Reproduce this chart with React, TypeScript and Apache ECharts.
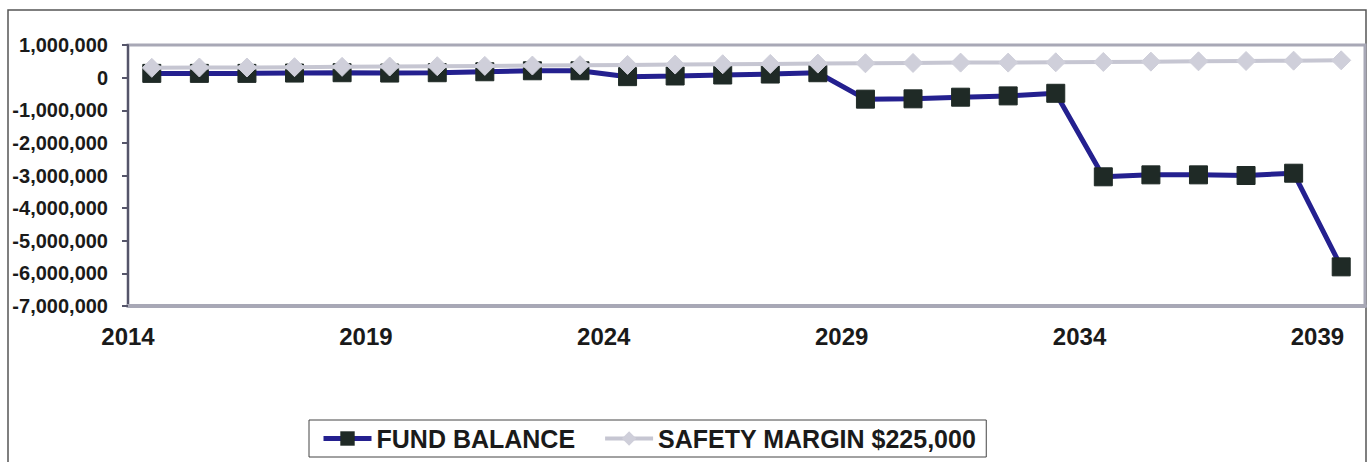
import React, { useEffect, useRef } from "react";
import * as echarts from "echarts";

const years = [
  2014.5, 2015.5, 2016.5, 2017.5, 2018.5, 2019.5, 2020.5, 2021.5, 2022.5, 2023.5,
  2024.5, 2025.5, 2026.5, 2027.5, 2028.5, 2029.5, 2030.5, 2031.5, 2032.5, 2033.5,
  2034.5, 2035.5, 2036.5, 2037.5, 2038.5, 2039.5,
];

const fundBalance = [
  130000, 130000, 130000, 140000, 150000, 140000, 150000, 180000, 210000, 210000,
  30000, 50000, 80000, 110000, 150000, -660000, -650000, -600000, -560000, -480000,
  -3040000, -2980000, -2980000, -3000000, -2930000, -5800000,
];

const safetyMargin = [
  300000, 310000, 310000, 320000, 330000, 340000, 350000, 360000, 370000, 380000,
  390000, 400000, 410000, 420000, 430000, 440000, 450000, 460000, 460000, 470000,
  480000, 490000, 500000, 510000, 520000, 530000,
];

const seriesNames = ["FUND BALANCE", "SAFETY MARGIN $225,000"];

const FONT = "'Liberation Sans', Arial, sans-serif";

export default function App() {
  const ref = useRef<HTMLDivElement>(null);

  useEffect(() => {
    if (!ref.current) return;
    const chart = echarts.init(ref.current, undefined, { renderer: "svg" });
    chart.setOption({
      animation: false,
      backgroundColor: "#ffffff",
      grid: {
        left: 128,
        top: 45,
        width: 1237,
        height: 261,
        show: true,
        borderColor: "#a8a8b6",
        borderWidth: 3,
        backgroundColor: "#ffffff",
      },
      xAxis: {
        type: "value",
        min: 2014,
        max: 2040,
        interval: 5,
        axisLine: { show: true, onZero: false, lineStyle: { color: "#a8a8b6", width: 4 } },
        axisTick: { show: false },
        splitLine: { show: false },
        axisLabel: {
          showMaxLabel: false,
          margin: 18,
          formatter: (v: number) => String(v),
          fontFamily: FONT,
          fontWeight: "bold",
          fontSize: 24,
          color: "#1a1a1a",
        },
      },
      yAxis: {
        type: "value",
        min: -7000000,
        max: 1000000,
        interval: 1000000,
        axisLine: { show: true, lineStyle: { color: "#55556a", width: 2 } },
        axisTick: { show: true, length: 6, lineStyle: { color: "#55556a", width: 2 } },
        splitLine: { show: false },
        axisLabel: {
          margin: 20,
          formatter: (v: number) => v.toLocaleString("en-US"),
          fontFamily: FONT,
          fontWeight: "bold",
          fontSize: 20,
          color: "#1a1a1a",
        },
      },
      legend: {
        data: [
          { name: seriesNames[0], lineStyle: { width: 5 } },
          { name: seriesNames[1], lineStyle: { width: 4 } },
        ],
        left: 309,
        top: 420,
        padding: [6, 10, 6, 12],
        itemGap: 28,
        itemWidth: 48,
        itemHeight: 18,
        borderColor: "#444444",
        borderWidth: 1,
        textStyle: {
          fontFamily: FONT,
          fontWeight: "bold",
          fontSize: 25,
          color: "#1a1a1a",
        },
      },
      graphic: [
        {
          type: "rect",
          shape: { x: 8, y: 10, width: 1358, height: 470 },
          style: { fill: "none", stroke: "#555555", lineWidth: 1.5 },
          z: -1,
          silent: true,
        },
      ],
      series: [
        {
          name: seriesNames[0],
          type: "line",
          data: years.map((y, i) => [y, fundBalance[i]]),
          symbol: "rect",
          symbolSize: 18,
          lineStyle: { color: "#24208f", width: 5 },
          itemStyle: { color: "#1f2a26", borderColor: "#1f2a26" },
          z: 2,
        },
        {
          name: seriesNames[1],
          type: "line",
          data: years.map((y, i) => [y, safetyMargin[i]]),
          symbol: "diamond",
          symbolSize: 19,
          lineStyle: { color: "#c6c6d2", width: 4 },
          itemStyle: { color: "#cfcfda", borderColor: "#cfcfda" },
          z: 3,
        },
      ],
    });
    return () => chart.dispose();
  }, []);

  return (
    <div
      ref={ref}
      style={{ position: "fixed", left: 0, top: 0, width: 1368, height: 462 }}
    />
  );
}
